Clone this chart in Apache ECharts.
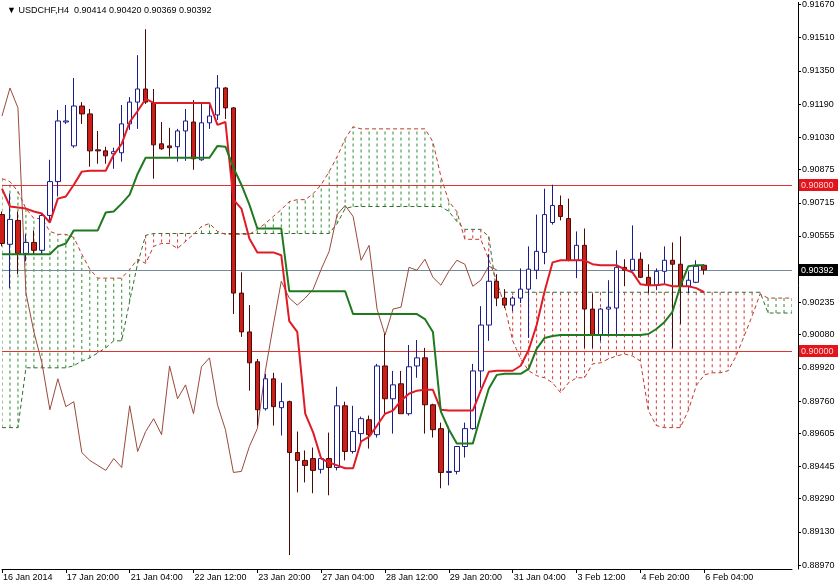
<!DOCTYPE html>
<html><head><meta charset="utf-8">
<script src="https://cdn.jsdelivr.net/npm/echarts@6/dist/echarts.min.js"></script>
<style>html,body{margin:0;padding:0;background:#fff}#c{width:838px;height:584px}</style>
</head><body><div id="c"></div>
<script>
const symbolName = 'USDCHF,H4';
const tickLabels = ['16 Jan 2014','17 Jan 20:00','21 Jan 04:00','22 Jan 12:00','23 Jan 20:00','27 Jan 04:00','28 Jan 12:00','29 Jan 20:00','31 Jan 04:00','3 Feb 12:00','4 Feb 20:00','6 Feb 04:00'];
const barsPerTick = 8;
const slotCount = 100;

const opens = [0.90658,0.90515,0.90630,0.90471,0.90524,0.90486,0.90654,0.90817,0.91104,0.90989,
0.91181,0.91143,0.90970,0.90965,0.90951,0.90956,0.91095,0.91200,0.91263,0.91196,
0.90999,0.90989,0.90985,0.91061,0.91104,0.90922,0.91100,0.91138,0.91268,0.91172,
0.90280,0.90093,0.89949,0.89723,0.89867,0.89728,0.89757,0.89512,0.89474,0.89483,
0.89431,0.89483,0.89440,0.89737,0.89517,0.89603,0.89670,0.89598,0.89929,0.89771,
0.89843,0.89699,0.89929,0.89968,0.89742,0.89627,0.89416,0.89421,0.89541,0.89627,
0.89905,0.90126,0.90337,0.90256,0.90222,0.90256,0.90299,0.90390,0.90476,0.90620,
0.90702,0.90639,0.90438,0.90510,0.90203,0.90078,0.90203,0.90208,0.90404,0.90390,
0.90443,0.90356,0.90318,0.90385,0.90438,0.90419,0.90313,0.90332,0.90414];
const highs = [0.90673,0.90759,0.90673,0.90563,0.90582,0.90663,0.90922,0.91162,0.91186,0.91316,
0.91200,0.91167,0.91061,0.90985,0.90980,0.91186,0.91224,0.91426,0.91551,0.91263,
0.91104,0.91076,0.91071,0.91167,0.91210,0.91200,0.91186,0.91330,0.91272,0.91176,
0.90380,0.90222,0.89963,0.89891,0.89896,0.89848,0.89762,0.89613,0.89522,0.89536,
0.89498,0.89608,0.89829,0.89757,0.89737,0.89685,0.89690,0.89939,0.90083,0.89905,
0.89905,0.90030,0.90054,0.90016,0.89747,0.89656,0.89637,0.89541,0.89656,0.89939,
0.90217,0.90467,0.90371,0.90299,0.90265,0.90399,0.90505,0.90658,0.90783,0.90802,
0.90750,0.90735,0.90577,0.90591,0.90275,0.90208,0.90342,0.90486,0.90443,0.90606,
0.90476,0.90419,0.90399,0.90505,0.90524,0.90553,0.90385,0.90438,0.90420];
const lows = [0.90505,0.90304,0.90371,0.90433,0.90467,0.90467,0.90625,0.90745,0.91095,0.90980,
0.91095,0.90889,0.90903,0.90903,0.90879,0.90913,0.91066,0.91071,0.91191,0.90831,
0.90970,0.90937,0.90913,0.90917,0.90874,0.90917,0.91071,0.91114,0.91119,0.90179,
0.90069,0.89810,0.89642,0.89714,0.89642,0.89594,0.89018,0.89320,0.89368,0.89316,
0.89411,0.89306,0.89426,0.89474,0.89507,0.89555,0.89531,0.89584,0.89699,0.89603,
0.89699,0.89690,0.89872,0.89603,0.89584,0.89340,0.89354,0.89407,0.89488,0.89622,
0.89824,0.90050,0.90217,0.90208,0.90193,0.90232,0.90064,0.90347,0.90419,0.90610,
0.90630,0.90433,0.90352,0.90016,0.90016,0.90050,0.90083,0.90078,0.90313,0.90385,
0.90352,0.90280,0.90294,0.90323,0.90016,0.90131,0.90280,0.90328,0.90369];
const closes = [0.90519,0.90635,0.90471,0.90524,0.90486,0.90654,0.90817,0.91109,0.91109,0.91181,
0.91143,0.90965,0.90965,0.90941,0.90961,0.91095,0.91200,0.91263,0.91200,0.90994,
0.90975,0.90980,0.91061,0.91109,0.90927,0.91100,0.91133,0.91268,0.91172,0.90280,
0.90093,0.89944,0.89718,0.89867,0.89733,0.89757,0.89512,0.89474,0.89450,0.89426,
0.89483,0.89440,0.89737,0.89517,0.89613,0.89675,0.89598,0.89929,0.89771,0.89838,
0.89699,0.89925,0.89968,0.89742,0.89622,0.89416,0.89421,0.89541,0.89627,0.89905,
0.90126,0.90337,0.90256,0.90222,0.90256,0.90299,0.90395,0.90481,0.90658,0.90702,
0.90649,0.90438,0.90510,0.90203,0.90078,0.90203,0.90212,0.90404,0.90390,0.90443,
0.90356,0.90318,0.90385,0.90438,0.90419,0.90313,0.90342,0.90409,0.90392];

const tenkan = [0.90783,0.90697,0.90692,0.90687,0.90673,0.90663,0.90620,0.90735,0.90745,0.90802,
0.90865,0.90869,0.90869,0.90869,0.90946,0.90999,0.91104,0.91157,0.91215,0.91196,
0.91196,0.91196,0.91196,0.91196,0.91196,0.91196,0.91196,0.91090,0.91104,0.90730,
0.90687,0.90543,0.90476,0.90476,0.90476,0.90462,0.90145,0.90093,0.89699,0.89608,
0.89483,0.89464,0.89450,0.89436,0.89436,0.89565,0.89589,0.89642,0.89699,0.89714,
0.89762,0.89795,0.89810,0.89814,0.89814,0.89718,0.89714,0.89714,0.89714,0.89714,
0.89810,0.89901,0.89906,0.89906,0.89906,0.89930,0.90006,0.90126,0.90289,0.90428,
0.90438,0.90438,0.90438,0.90438,0.90419,0.90414,0.90414,0.90414,0.90395,0.90380,
0.90323,0.90318,0.90318,0.90323,0.90313,0.90313,0.90313,0.90304,0.90284];
const kijun = [0.90467,0.90467,0.90467,0.90467,0.90467,0.90467,0.90467,0.90505,0.90519,0.90582,
0.90582,0.90582,0.90582,0.90668,0.90673,0.90711,0.90754,0.90855,0.90932,0.90932,
0.90932,0.90932,0.90932,0.90932,0.90932,0.90932,0.90932,0.90989,0.90985,0.90884,
0.90802,0.90706,0.90591,0.90591,0.90591,0.90591,0.90289,0.90289,0.90289,0.90289,
0.90289,0.90289,0.90289,0.90289,0.90179,0.90179,0.90179,0.90179,0.90179,0.90179,
0.90179,0.90179,0.90179,0.90155,0.90093,0.89709,0.89623,0.89555,0.89555,0.89555,
0.89690,0.89819,0.89886,0.89891,0.89891,0.89891,0.89915,0.90011,0.90064,0.90073,
0.90078,0.90078,0.90078,0.90078,0.90078,0.90078,0.90078,0.90078,0.90078,0.90078,
0.90078,0.90083,0.90107,0.90140,0.90188,0.90313,0.90409,0.90414,0.90414];
const chikou = [0.91133,0.91268,0.91172,0.90280,0.90093,0.89944,0.89718,0.89867,0.89733,0.89757,
0.89512,0.89474,0.89450,0.89426,0.89483,0.89440,0.89737,0.89517,0.89613,0.89675,
0.89598,0.89929,0.89771,0.89838,0.89699,0.89925,0.89968,0.89742,0.89622,0.89416,
0.89421,0.89541,0.89627,0.89905,0.90126,0.90337,0.90256,0.90222,0.90256,0.90299,
0.90395,0.90481,0.90658,0.90702,0.90649,0.90438,0.90510,0.90203,0.90078,0.90203,
0.90212,0.90404,0.90390,0.90443,0.90356,0.90318,0.90385,0.90438,0.90419,0.90313,
0.90342,0.90409,0.90392];
const spanA = [0.90831,0.90817,0.90769,0.90687,0.90639,0.90639,0.90577,0.90563,0.90563,0.90548,
0.90467,0.90395,0.90352,0.90352,0.90352,0.90352,0.90395,0.90443,0.90423,0.90505,
0.90519,0.90519,0.90495,0.90529,0.90563,0.90601,0.90615,0.90577,0.90563,0.90563,
0.90563,0.90563,0.90587,0.90615,0.90649,0.90682,0.90721,0.90730,0.90730,0.90759,
0.90802,0.90865,0.90937,0.91023,0.91081,0.91071,0.91071,0.91071,0.91071,0.91071,
0.91071,0.91071,0.91071,0.91071,0.91009,0.90841,0.90721,0.90673,0.90539,0.90539,
0.90539,0.90443,0.90337,0.90217,0.90050,0.89963,0.89906,0.89882,0.89872,0.89848,
0.89800,0.89848,0.89872,0.89872,0.89939,0.89944,0.89963,0.89977,0.89987,0.89977,
0.89953,0.89714,0.89642,0.89632,0.89632,0.89632,0.89714,0.89834,0.89886,0.89896,
0.89896,0.89906,0.89977,0.90073,0.90169,0.90275,0.90256,0.90256,0.90256,0.90256];
const spanB = [0.89632,0.89632,0.89632,0.89920,0.89920,0.89920,0.89920,0.89920,0.89920,0.89930,
0.89953,0.89968,0.89992,0.90016,0.90050,0.90050,0.90241,0.90423,0.90558,0.90567,
0.90567,0.90567,0.90567,0.90567,0.90567,0.90567,0.90567,0.90567,0.90567,0.90567,
0.90567,0.90567,0.90567,0.90567,0.90567,0.90567,0.90567,0.90567,0.90567,0.90567,
0.90567,0.90567,0.90615,0.90687,0.90697,0.90697,0.90697,0.90697,0.90697,0.90697,
0.90697,0.90697,0.90697,0.90697,0.90697,0.90697,0.90673,0.90625,0.90587,0.90587,
0.90587,0.90553,0.90284,0.90284,0.90284,0.90284,0.90284,0.90284,0.90284,0.90284,
0.90284,0.90284,0.90284,0.90284,0.90284,0.90284,0.90284,0.90284,0.90284,0.90284,
0.90284,0.90284,0.90284,0.90284,0.90284,0.90284,0.90284,0.90284,0.90284,0.90284,
0.90284,0.90284,0.90284,0.90284,0.90284,0.90284,0.90184,0.90184,0.90184,0.90184];
const levelValues = [0.90800, 0.90000, 0.90392];
const levelKinds = ['alert', 'alert', 'bid'];
const yTicks = [0.91670,0.91510,0.91350,0.91190,0.91030,0.90875,0.90715,0.90555,0.90235,0.90080,0.89920,0.89760,0.89605,0.89445,0.89290,0.89130,0.88970];
const yMin = 0.88951, yMax = 0.91680;

const FONT = '"Liberation Sans", Arial, sans-serif';
const cats = Array.from({length: slotCount}, (_, i) => String(i));
const candleData = opens.map((o, i) => [o, closes[i], lows[i], highs[i]]);
const hatchData = spanA.map((a, i) => [i, spanB[i], a]);
const levelData = levelValues.map((v, i) => [0, v, i]);
const last = opens.length - 1;
const titleText = '\u25BC ' + symbolName + '  ' + [opens[last], highs[last], lows[last], closes[last]].map(v => v.toFixed(5)).join(' ');
const tickShown = (i) => i % barsPerTick === 0 && i <= last;
const levelStyle = {
  alert: {line: 'rgb(222,52,52)', bg: 'rgb(228,20,28)', fg: 'rgb(255,214,214)'},
  bid: {line: 'rgb(119,136,153)', bg: 'rgb(0,0,0)', fg: 'rgb(255,255,255)'}
};

const chart = echarts.init(document.getElementById('c'), null, {renderer: 'canvas'});
chart.setOption({
  animation: false,
  backgroundColor: '#ffffff',
  title: {text: titleText, left: 2, top: 1, textStyle: {fontFamily: FONT, fontSize: 9, fontWeight: 'normal', color: '#000'}},
  grid: {left: 0, right: 46, top: 0, bottom: 15, containLabel: false},
  xAxis: {
    type: 'category', data: cats, boundaryGap: false,
    axisLine: {show: true, lineStyle: {color: '#000', width: 1}},
    axisTick: {show: true, length: 4, interval: tickShown, lineStyle: {color: '#000'}},
    axisLabel: {show: true, interval: tickShown, align: 'left', margin: 4, padding: [0, 0, 0, 1],
      formatter: (v) => tickLabels[Math.round(Number(v) / barsPerTick)] || '',
      fontFamily: FONT, fontSize: 9, color: '#000'},
    splitLine: {show: false}
  },
  yAxis: {
    type: 'value', position: 'right', offset: 6, min: yMin, max: yMax, scale: true,
    axisLine: {show: true, lineStyle: {color: '#000', width: 1}},
    axisTick: {show: true, inside: false, length: 3, customValues: yTicks, lineStyle: {color: '#000'}},
    axisLabel: {show: true, customValues: yTicks, margin: 4, formatter: v => Number(v).toFixed(5), fontFamily: FONT, fontSize: 9, color: '#000'},
    splitLine: {show: false}
  },
  series: [
    {
      type: 'custom', name: 'kumo', data: hatchData, z: 1, silent: true, clip: true,
      renderItem: (params, api) => {
        const j = api.value(0), b = api.value(1), a = api.value(2);
        const p1 = api.coord([j, b]), p2 = api.coord([j, a]);
        return {type: 'line', shape: {x1: p1[0], y1: p1[1], x2: p2[0], y2: p2[1]},
          style: {stroke: a > b ? '#2f8f2f' : '#d23a3a', lineWidth: 1, lineDash: [3, 3]}};
      }
    },
    {type: 'line', name: 'Senkou B', data: spanB, z: 2, showSymbol: false, silent: true,
      lineStyle: {color: '#2f6f2f', width: 1, type: [4, 3]}},
    {type: 'line', name: 'Senkou A', data: spanA, z: 2, showSymbol: false, silent: true,
      lineStyle: {color: '#c0392b', width: 1, type: [4, 3]}},
    {type: 'line', name: 'Chikou', data: chikou, z: 3, showSymbol: false, silent: true,
      lineStyle: {color: '#9a4a3c', width: 1}},
    {
      type: 'custom', name: 'levels', data: levelData, z: 3, silent: true, clip: false,
      renderItem: (params, api) => {
        const v = api.value(1), k = levelKinds[api.value(2)];
        const st = levelStyle[k];
        const cs = params.coordSys;
        const y = Math.round(api.coord([0, v])[1]);
        const xr = cs.x + cs.width;
        return {type: 'group', children: [
          {type: 'rect', shape: {x: cs.x, y: y, width: cs.width, height: 1}, style: {fill: st.line, stroke: null}},
          {type: 'rect', shape: {x: xr + 7, y: y - 6, width: 39, height: 12}, style: {fill: st.bg, stroke: null}, z2: 10},
          {type: 'text', x: xr + 9, y: y + 0.5, style: {text: v.toFixed(5), fill: st.fg, font: '9px ' + FONT, verticalAlign: 'middle'}, z2: 11}
        ]};
      }
    },
    {
      type: 'candlestick', name: symbolName, data: candleData, z: 4, barWidth: 5, silent: true,
      itemStyle: {color: '#ffffff', color0: '#cc1f1a', borderColor: '#1c1c8c', borderColor0: '#4a0b08', borderWidth: 1}
    },
    {type: 'line', name: 'Tenkan', data: tenkan, z: 5, showSymbol: false, silent: true,
      lineStyle: {color: '#e01b24', width: 2}},
    {type: 'line', name: 'Kijun', data: kijun, z: 5, showSymbol: false, silent: true,
      lineStyle: {color: '#1f7a1f', width: 2}}
  ]
});
</script></body></html>
